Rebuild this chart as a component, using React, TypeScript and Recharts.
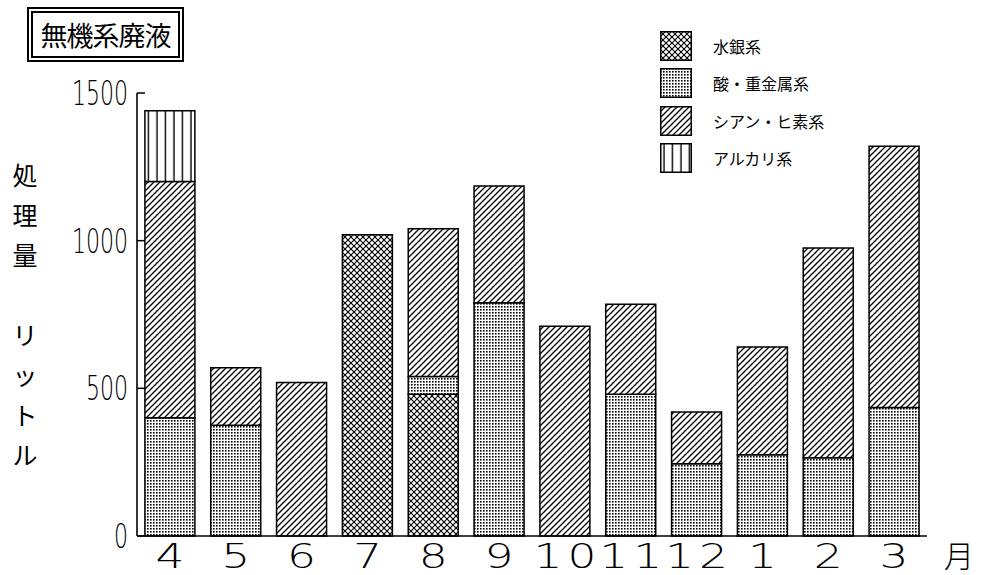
import { Bar, BarChart, XAxis, YAxis } from 'recharts'

const months = ['4', '5', '6', '7', '8', '9', '10', '11', '12', '1', '2', '3']
const mercury = [0, 0, 0, 1020, 480, 0, 0, 0, 0, 0, 0, 0]
const acidMetal = [400, 375, 0, 0, 60, 790, 0, 480, 245, 275, 265, 435]
const cyanArsenic = [800, 195, 520, 0, 500, 395, 710, 305, 175, 365, 710, 885]
const alkali = [240, 0, 0, 0, 0, 0, 0, 0, 0, 0, 0, 0]
const yTicks = [0, 500, 1000, 1500]

const series = [
  { key: 'mercury', name: '水銀系', pattern: 'pat-cross' },
  { key: 'acid', name: '酸・重金属系', pattern: 'pat-dots' },
  { key: 'cyan', name: 'シアン・ヒ素系', pattern: 'pat-diag' },
  { key: 'alkali', name: 'アルカリ系', pattern: 'pat-vert' },
]

const data = months.map((m, i) => ({
  month: m,
  mercury: mercury[i],
  acid: acidMetal[i],
  cyan: cyanArsenic[i],
  alkali: alkali[i],
}))

const cjk = '"Noto Sans CJK JP", sans-serif'
const digits = '"DejaVu Sans", sans-serif'

function Patterns() {
  return (
    <defs>
      <pattern id="pat-cross" width={6} height={6} patternUnits="userSpaceOnUse">
        <rect width={6} height={6} fill="#fff" />
        <path d="M0,0 L6,6 M6,0 L0,6" stroke="#000" strokeWidth={1.1} />
      </pattern>
      <pattern id="pat-dots" width={3} height={3} patternUnits="userSpaceOnUse">
        <rect width={3} height={3} fill="#fff" />
        <rect width={1.6} height={1.6} fill="#000" />
      </pattern>
      <pattern id="pat-diag" width={6} height={6} patternUnits="userSpaceOnUse">
        <rect width={6} height={6} fill="#fff" />
        <path d="M0,6 L6,0 M-1,1 L1,-1 M5,7 L7,5" stroke="#000" strokeWidth={1.3} />
      </pattern>
      <pattern id="pat-vert" width={8.5} height={8} patternUnits="userSpaceOnUse">
        <rect width={8.5} height={8} fill="#fff" />
        <line x1={4} y1={0} x2={4} y2={8} stroke="#000" strokeWidth={1.4} />
      </pattern>
    </defs>
  )
}

function YTick({ x, y, payload }: any) {
  const label = String(payload.value)
  const w = label.length * 14
  return (
    <g>
      <line x1={x + 9} y1={y} x2={x + 17} y2={y} stroke="#000" strokeWidth={1.5} />
      <text
        x={x - w}
        y={y + 12}
        textLength={w}
        lengthAdjust="spacingAndGlyphs"
        fontSize={34}
        fontWeight={200}
        fontFamily={digits}
        fill="#000"
      >
        {label}
      </text>
    </g>
  )
}

function XTick({ x, y, payload }: any) {
  const chars = String(payload.value).split('')
  const step = 34
  const w = 29
  return (
    <g>
      {chars.map((c, i) => {
        const cx = x + (i - (chars.length - 1) / 2) * step
        return (
          <text
            key={i}
            x={cx - w / 2}
            y={y + 32}
            textLength={w}
            lengthAdjust="spacingAndGlyphs"
            fontSize={34}
            fontWeight={200}
            fontFamily={digits}
            fill="#000"
          >
            {c}
          </text>
        )
      })}
    </g>
  )
}

export default function App() {
  return (
    <div
      style={{
        position: 'absolute',
        left: 0,
        top: 0,
        width: 982,
        height: 575,
        background: '#fff',
        color: '#000',
      }}
    >
      <BarChart
        width={982}
        height={575}
        data={data}
        margin={{ top: 93, right: 55, bottom: 4, left: 77 }}
        barCategoryGap="12%"
      >
        <Patterns />
        <XAxis
          dataKey="month"
          height={35}
          tickLine={false}
          tickSize={0}
          tickMargin={0}
          interval={0}
          tick={<XTick />}
          axisLine={{ stroke: '#000', strokeWidth: 1.6 }}
        />
        <YAxis
          width={60}
          domain={[0, 1500]}
          ticks={yTicks}
          tickLine={false}
          tickSize={0}
          tickMargin={9}
          tick={<YTick />}
          axisLine={{ stroke: '#000', strokeWidth: 1.6 }}
        />
        {series.map((s) => (
          <Bar
            key={s.key}
            dataKey={s.key}
            name={s.name}
            stackId="a"
            fill={`url(#${s.pattern})`}
            stroke="#000"
            strokeWidth={1.5}
            isAnimationActive={false}
          />
        ))}
      </BarChart>

      <div
        style={{
          position: 'absolute',
          left: 27,
          top: 7,
          width: 157,
          height: 55,
          boxSizing: 'border-box',
          border: '6px double #000',
          display: 'flex',
          alignItems: 'center',
          justifyContent: 'center',
          fontFamily: cjk,
          fontSize: 27,
          letterSpacing: -1,
        }}
      >
        無機系廃液
      </div>

      <div
        style={{
          position: 'absolute',
          left: 11,
          top: 154,
          width: 28,
          fontFamily: cjk,
          fontSize: 25,
          lineHeight: '40px',
          textAlign: 'center',
        }}
      >
        {['処', '理', '量'].map((c) => (
          <div key={c}>{c}</div>
        ))}
        <div style={{ height: 40 }} />
        {['リ', 'ッ', 'ト', 'ル'].map((c) => (
          <div key={c}>{c}</div>
        ))}
      </div>

      <div
        style={{
          position: 'absolute',
          left: 944,
          top: 536,
          fontFamily: cjk,
          fontSize: 30,
          fontWeight: 300,
          lineHeight: '36px',
        }}
      >
        月
      </div>

      <div style={{ position: 'absolute', left: 660, top: 27 }}>
        {series.map((s) => (
          <div
            key={s.key}
            style={{ display: 'flex', alignItems: 'center', height: 37.5 }}
          >
            <svg width={32} height={30} style={{ display: 'block' }}>
              <rect
                x={0.75}
                y={0.75}
                width={30.5}
                height={28.5}
                fill={`url(#${s.pattern})`}
                stroke="#000"
                strokeWidth={1.5}
              />
            </svg>
            <span
              style={{
                marginLeft: 21,
                fontFamily: cjk,
                fontSize: 16,
                lineHeight: '20px',
              }}
            >
              {s.name}
            </span>
          </div>
        ))}
      </div>
    </div>
  )
}
